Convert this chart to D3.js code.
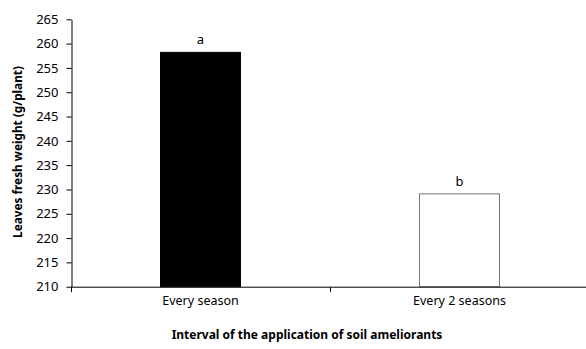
<!DOCTYPE html>
<html><head><meta charset="utf-8">
<script src="https://cdn.jsdelivr.net/npm/d3@7"></script>
<style>body{margin:0;background:#fff}svg{display:block}</style>
</head><body>
<script>
const categories = ["Every season", "Every 2 seasons"];
const values = [258.2, 229.1];
const letters = ["a", "b"];
const yTicks = [210,215,220,225,230,235,240,245,250,255,260,265];
const fills = ["#000000", "#ffffff"];
const strokes = ["#000000", "#777777"];

const W = 586, H = 349;
const svg = d3.select("body").append("svg").attr("width", W).attr("height", H);
const x0 = 71, x1 = 589, yTop = 19.3, yBot = 286.7;
const x = d3.scaleBand().domain(categories).range([x0, x1]).paddingInner(0.6875).paddingOuter(0.34375);
const y = d3.scaleLinear().domain([210, 265]).range([yBot, yTop]);
const font = "'Noto Sans', 'Open Sans', sans-serif";

// bars
svg.selectAll("rect.bar").data(values).join("rect")
  .attr("x", (d,i) => x(categories[i]) + 0.5)
  .attr("y", d => y(d))
  .attr("width", x.bandwidth() - 1)
  .attr("height", d => yBot - y(d))
  .attr("fill", (d,i) => fills[i])
  .attr("stroke", (d,i) => strokes[i])
  .attr("stroke-width", 1);

// y axis
const ya = svg.append("g").attr("transform", `translate(${x0 + 0.5},0)`)
  .call(d3.axisLeft(y).tickValues(yTicks).tickSize(5).tickPadding(8).tickSizeOuter(0));
ya.select(".domain").attr("stroke", "#000");
ya.selectAll(".tick line").attr("stroke", "#000");
ya.selectAll("text").attr("font-family", font).attr("font-size", 13).attr("fill", "#000");

// x axis (category boundaries ticks)
const xa = svg.append("g").attr("transform", `translate(0,${yBot + 0.5})`);
xa.append("line").attr("x1", x0).attr("x2", W).attr("y1", 0).attr("y2", 0).attr("stroke", "#000");
const bounds = [x0, (x0 + x1) / 2, x1];
xa.selectAll("line.t").data(bounds).join("line").attr("class","t")
  .attr("x1", d => Math.round(d) + 0.5).attr("x2", d => Math.round(d) + 0.5)
  .attr("y1", 0).attr("y2", 5).attr("stroke", "#000");
xa.selectAll("text").data(categories).join("text")
  .attr("x", d => x(d) + x.bandwidth() / 2)
  .attr("y", 305 - yBot)
  .attr("text-anchor", "middle")
  .attr("font-family", font).attr("font-size", 12.5).attr("fill", "#000")
  .text(d => d);

// letters
svg.selectAll("text.lab").data(values).join("text").attr("class","lab")
  .attr("x", (d,i) => x(categories[i]) + x.bandwidth() / 2)
  .attr("y", d => y(d) - 8)
  .attr("text-anchor", "middle")
  .attr("font-family", font).attr("font-size", 13).attr("fill", "#000")
  .text((d,i) => letters[i]);

// axis titles
svg.append("text")
  .attr("transform", "translate(22,152) rotate(-90)")
  .attr("text-anchor", "middle")
  .attr("font-family", font).attr("font-size", 11.8).attr("font-weight", "bold")
  .text("Leaves fresh weight (g/plant)");
svg.append("text")
  .attr("x", 307).attr("y", 339)
  .attr("text-anchor", "middle")
  .attr("font-family", font).attr("font-size", 12).attr("font-weight", "bold")
  .text("Interval of the application of soil ameliorants");
</script>
</body></html>
